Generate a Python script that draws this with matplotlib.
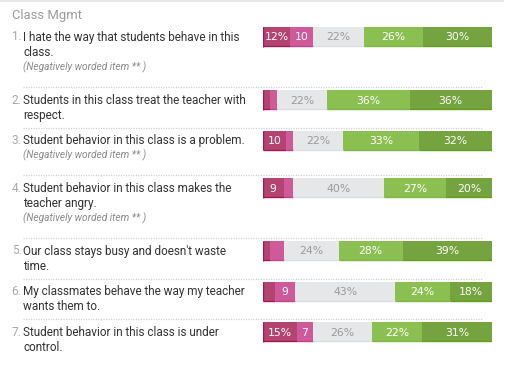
import matplotlib
matplotlib.use("Agg")
import matplotlib.pyplot as plt

# ---------------- data ----------------
title = "Class Mgmt"
items = [
    "I hate the way that students behave in this\nclass.",
    "Students in this class treat the teacher with\nrespect.",
    "Student behavior in this class is a problem.",
    "Student behavior in this class makes the\nteacher angry.",
    "Our class stays busy and doesn't waste\ntime.",
    "My classmates behave the way my teacher\nwants them to.",
    "Student behavior in this class is under\ncontrol.",
]
negative = [True, False, True, True, False, False, False]
note_text = "(Negatively worded item ** )"

strongly_disagree = [12, 3, 10, 9, 3, 5, 15]
disagree = [10, 3, 3, 4, 6, 9, 7]
neutral = [22, 22, 22, 40, 24, 43, 26]
agree = [26, 36, 33, 27, 28, 24, 22]
strongly_agree = [30, 36, 32, 20, 39, 18, 31]

series = [strongly_disagree, disagree, neutral, agree, strongly_agree]
colors = ["#b3446f", "#cf5a9a", "#e6e7e9", "#8bbf52", "#74a340"]
edge_colors = ["#a3185a", "#c8408c", "#dcdde0", "#7fb545", "#62a01a"]
label_colors = ["white", "white", "#9a9a9a", "white", "white"]

# ---------------- layout (pixel units) ----------------
W, H = 512, 370
fig = plt.figure(figsize=(W / 100, H / 100), dpi=100)
fig.patch.set_facecolor("white")

base = fig.add_axes([0, 0, 1, 1])
base.set_xlim(0, W)
base.set_ylim(H, 0)
base.axis("off")

bar_x0, bar_x1 = 263, 492
ax = fig.add_axes([bar_x0 / W, 0, (bar_x1 - bar_x0) / W, 1])
ax.set_xlim(0, 100)
ax.set_ylim(H, 0)
ax.axis("off")

font = "Roboto"
line_pitch = 15.5
row_first = []
separators = []
y = 37.0
for txt, neg in zip(items, negative):
    row_first.append(y)
    n = txt.count("\n") + 1 + (1 if neg else 0)
    last = y + (n - 1) * line_pitch
    sep = last + 12 + (7 if neg else 0)
    separators.append(sep)
    y = sep + 13

# top rule and title
base.plot([0, 503], [1, 1], color="#e3e3e3", lw=1.2)
base.text(12, 15, title, fontsize=9.4, color="#9b9b9b", family=font,
          va="center", ha="left")

# item texts
for i, (txt, neg, y0) in enumerate(zip(items, negative, row_first)):
    base.text(21.5, y0, f"{i + 1}.", fontsize=8.5, color="#a8a8a8", family=font,
              va="center", ha="right")
    lines = txt.split("\n")
    for k, ln in enumerate(lines):
        base.text(23, y0 + k * line_pitch, ln, fontsize=8.5, color="#333333",
                  family=font, va="center", ha="left")
    if neg:
        base.text(23, y0 + len(lines) * line_pitch - 0.5, note_text, fontsize=7.3,
                  color="#8a8a8a", family=font, style="italic",
                  va="center", ha="left")

# dotted separators
for s in separators[:-1]:
    base.plot([23, 482], [s, s], color="#cfcfcf", lw=0.9,
              linestyle=(0, (0.9, 1.1)))

# bars
bar_h = 19.5
for r, y0 in enumerate(row_first):
    vals = [srs[r] for srs in series]
    total = sum(vals)
    left = 0.0
    for j, v in enumerate(vals):
        w = v / total * 100
        ax.barh(y0, w, left=left, height=bar_h, color=colors[j],
                edgecolor="none")
        ax.hlines(y0 + bar_h / 2 - 0.5, left, left + w, color=edge_colors[j],
                  lw=1.0)
        if j == 0:
            ax.vlines(left + 0.2, y0 - bar_h / 2, y0 + bar_h / 2,
                      color=edge_colors[j], lw=1.0)
        if j < 2:
            if v >= 12:
                lab = f"{v}%"
            elif v >= 7:
                lab = f"{v}"
            else:
                lab = ""
        else:
            lab = f"{v}%"
        if lab:
            ax.text(left + w / 2, y0 + 0.5, lab, fontsize=7.8, color=label_colors[j],
                    family="DejaVu Sans", ha="center", va="center")
        left += w

fig.savefig("out.png", dpi=100, facecolor="white")
